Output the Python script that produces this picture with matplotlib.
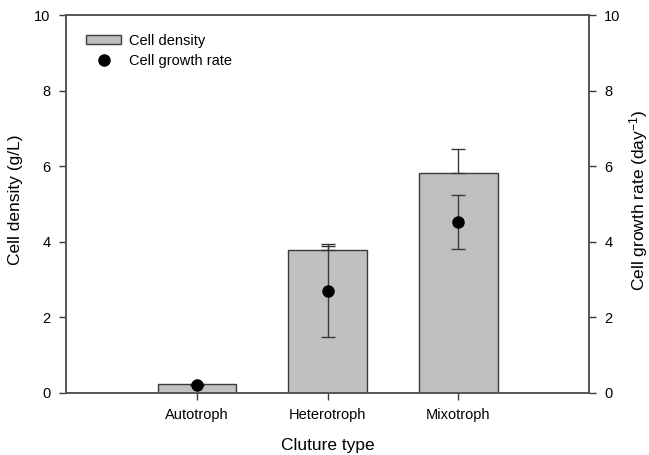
import matplotlib.pyplot as plt
import numpy as np

plt.rcParams['font.family'] = ['Liberation Sans', 'DejaVu Sans']
plt.rcParams['mathtext.fontset'] = 'custom'
plt.rcParams['mathtext.rm'] = 'Liberation Sans'
plt.rcParams['mathtext.it'] = 'Liberation Sans'
plt.rcParams['mathtext.default'] = 'regular'

categories = ["Autotroph", "Heterotroph", "Mixotroph"]
cell_density = [0.23, 3.78, 5.81]
cell_density_err = [0.0, 0.11, 0.64]
growth_rate = [0.2, 2.71, 4.53]
growth_rate_err = [0.0, 1.23, 0.71]

x = np.arange(1, len(categories) + 1)

fig = plt.figure(figsize=(6.49, 4.55), dpi=100)
ax = fig.add_axes([0.1017, 0.1363, 0.8059, 0.8307])
ax2 = ax.twinx()

edge = "#3a3a3a"
bars = ax.bar(x, cell_density, width=0.6, color="#c0c0c0", edgecolor=edge,
              linewidth=1.0, label="Cell density", zorder=2)
# only upper half of the density error bars is visible
ax.errorbar(x, cell_density, yerr=[np.zeros(3), cell_density_err], fmt="none",
            ecolor=edge, elinewidth=1.0, capsize=5, capthick=1.0, zorder=3)
ax.errorbar(x, growth_rate, yerr=growth_rate_err, fmt="o", color="black",
            markersize=8, ecolor=edge, elinewidth=1.0, capsize=5,
            capthick=1.0, zorder=4)
dot, = ax.plot([], [], "o", color="black", markersize=8, label="Cell growth rate")

for a in (ax, ax2):
    a.set_ylim(0, 10)
    a.set_yticks([0, 2, 4, 6, 8, 10])
    a.tick_params(labelsize=10.5, direction="out", length=5, width=1,
                  color=edge, pad=6)
    for s in a.spines.values():
        s.set_color("#555555")
        s.set_linewidth(1.2)

ax.set_xlim(0, 4)
ax.set_xticks(x)
ax.set_xticklabels(categories)
ax.set_xlabel("Cluture type", fontsize=12.5, labelpad=11)
ax.set_ylabel("Cell density (g/L)", fontsize=12.5)
ax.yaxis.set_label_coords(-0.083, 0.51)
ax2.set_ylabel("Cell growth rate (day$^{-1}$)", fontsize=12.5)
ax2.yaxis.set_label_coords(1.072, 0.51)

ax.legend(handles=[bars, dot], loc="upper left", bbox_to_anchor=(0.014, 0.985),
          frameon=False, fontsize=10.5, handlelength=2.35, handleheight=0.55,
          labelspacing=0.4, handletextpad=0.55)

fig.savefig("out.png", dpi=100)
